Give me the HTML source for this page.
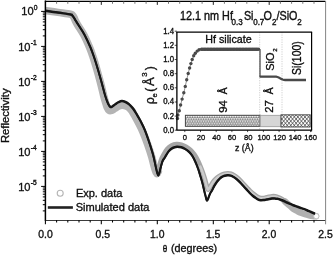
<!DOCTYPE html><html><head><meta charset="utf-8"><title>Reflectivity</title>
<style>html,body{margin:0;padding:0;background:#fff;}svg{display:block}text{font-family:"Liberation Sans",Arial,sans-serif;fill:#0c0c0c;stroke:#0c0c0c;stroke-width:0.32px}</style></head><body>
<svg width="333" height="256" viewBox="0 0 333 256">
<rect width="333" height="256" fill="#fff"/>
<defs><filter id="soft" x="0" y="0" width="333" height="256" filterUnits="userSpaceOnUse"><feGaussianBlur stdDeviation="0.38"/></filter></defs>
<g filter="url(#soft)">
<defs><clipPath id="cp"><rect x="45.5" y="1" width="279.5" height="219.3"/></clipPath></defs>
<g clip-path="url(#cp)">
<path d="M46.50,10.70 C48.42,10.98 54.00,11.82 58.00,12.40 C62.00,12.98 68.08,13.73 70.50,14.20 C72.92,14.67 71.92,14.65 72.50,15.20 C73.08,15.75 73.50,16.53 74.00,17.50 C74.50,18.47 74.87,19.72 75.50,21.00 C76.13,22.28 76.38,22.83 77.80,25.20 C79.22,27.57 82.00,31.40 84.00,35.20 C86.00,39.00 88.27,44.28 89.80,48.00 C91.33,51.72 92.17,54.42 93.20,57.50 C94.23,60.58 95.07,63.33 96.00,66.50 C96.93,69.67 97.93,73.33 98.80,76.50 C99.67,79.67 100.40,82.33 101.20,85.50 C102.00,88.67 102.90,92.75 103.60,95.50 C104.30,98.25 104.80,100.00 105.40,102.00 C106.00,104.00 106.57,106.08 107.20,107.50 C107.83,108.92 108.48,110.00 109.20,110.50 C109.92,111.00 110.62,110.80 111.50,110.50 C112.38,110.20 113.42,109.38 114.50,108.70 C115.58,108.02 116.83,106.98 118.00,106.40 C119.17,105.82 120.33,105.33 121.50,105.20 C122.67,105.07 123.83,105.25 125.00,105.60 C126.17,105.95 127.37,106.43 128.50,107.30 C129.63,108.17 130.72,109.30 131.80,110.80 C132.88,112.30 133.87,114.27 135.00,116.30 C136.13,118.33 137.27,120.35 138.60,123.00 C139.93,125.65 141.50,128.67 143.00,132.20 C144.50,135.73 146.17,140.15 147.60,144.20 C149.03,148.25 150.43,152.53 151.60,156.50 C152.77,160.47 153.83,165.33 154.60,168.00 C155.37,170.67 155.75,171.58 156.20,172.50 C156.65,173.42 156.95,173.67 157.30,173.50 C157.65,173.33 158.13,171.83 158.30,171.50" fill="none" stroke="#b4b4b4" stroke-width="7.5" stroke-linejoin="round" stroke-linecap="round"/>
<path d="M285.00,201.50 C285.53,201.95 287.13,203.28 288.20,204.20 C289.27,205.12 290.33,206.12 291.40,207.00 C292.47,207.88 293.53,208.78 294.60,209.50 C295.67,210.22 296.73,210.75 297.80,211.30 C298.87,211.85 299.80,212.32 301.00,212.80 C302.20,213.28 303.67,213.80 305.00,214.20 C306.33,214.60 307.67,214.92 309.00,215.20 C310.33,215.48 311.83,215.73 313.00,215.90 C314.17,216.07 315.50,216.15 316.00,216.20" fill="none" stroke="#b0b0b0" stroke-width="6.6" stroke-linejoin="round" stroke-linecap="round"/>
<path d="M158.30,171.50 C158.50,170.58 159.02,167.92 159.50,166.00 C159.98,164.08 160.52,161.83 161.20,160.00 C161.88,158.17 162.58,156.80 163.60,155.00 C164.62,153.20 165.98,150.75 167.30,149.20 C168.62,147.65 169.97,146.53 171.50,145.70 C173.03,144.87 174.83,144.35 176.50,144.20 C178.17,144.05 179.92,144.37 181.50,144.80 C183.08,145.23 184.52,145.93 186.00,146.80 C187.48,147.67 189.03,148.72 190.40,150.00 C191.77,151.28 193.03,152.83 194.20,154.50 C195.37,156.17 196.38,158.00 197.40,160.00 C198.42,162.00 199.40,164.33 200.30,166.50 C201.20,168.67 202.02,170.75 202.80,173.00 C203.58,175.25 204.37,177.83 205.00,180.00 C205.63,182.17 206.13,184.45 206.60,186.00 C207.07,187.55 207.40,188.88 207.80,189.30 C208.20,189.72 208.47,189.13 209.00,188.50 C209.53,187.87 210.30,186.58 211.00,185.50 C211.70,184.42 212.40,183.08 213.20,182.00 C214.00,180.92 214.92,179.87 215.80,179.00 C216.68,178.13 217.55,177.47 218.50,176.80 C219.45,176.13 220.48,175.50 221.50,175.00 C222.52,174.50 223.55,174.07 224.60,173.80 C225.65,173.53 226.73,173.40 227.80,173.40 C228.87,173.40 229.93,173.45 231.00,173.80 C232.07,174.15 233.13,174.80 234.20,175.50 C235.27,176.20 236.33,177.08 237.40,178.00 C238.47,178.92 239.53,179.92 240.60,181.00 C241.67,182.08 242.73,183.33 243.80,184.50 C244.87,185.67 245.93,186.88 247.00,188.00 C248.07,189.12 249.15,190.20 250.20,191.20 C251.25,192.20 252.25,193.13 253.30,194.00 C254.35,194.87 255.47,195.77 256.50,196.40 C257.53,197.03 258.50,197.50 259.50,197.80 C260.50,198.10 261.50,198.20 262.50,198.20 C263.50,198.20 264.47,198.00 265.50,197.80 C266.53,197.60 267.62,197.23 268.70,197.00 C269.78,196.77 270.90,196.48 272.00,196.40 C273.10,196.32 274.22,196.32 275.30,196.50 C276.38,196.68 277.42,197.05 278.50,197.50 C279.58,197.95 280.72,198.53 281.80,199.20 C282.88,199.87 284.47,201.12 285.00,201.50" fill="none" stroke="#a6a6a6" stroke-width="5" stroke-linejoin="round" stroke-linecap="round"/>
<path d="M200.30,166.50 C200.72,167.58 202.02,170.75 202.80,173.00 C203.58,175.25 204.37,177.83 205.00,180.00 C205.63,182.17 206.13,184.45 206.60,186.00 C207.07,187.55 207.40,188.88 207.80,189.30 C208.20,189.72 208.47,189.13 209.00,188.50 C209.53,187.87 210.30,186.58 211.00,185.50 C211.70,184.42 212.40,183.08 213.20,182.00 C214.00,180.92 214.92,179.87 215.80,179.00 C216.68,178.13 217.55,177.47 218.50,176.80 C219.45,176.13 220.48,175.50 221.50,175.00 C222.52,174.50 223.55,174.07 224.60,173.80 C225.65,173.53 226.73,173.40 227.80,173.40 C228.87,173.40 229.93,173.45 231.00,173.80 C232.07,174.15 233.13,174.80 234.20,175.50 C235.27,176.20 236.33,177.08 237.40,178.00 C238.47,178.92 239.53,179.92 240.60,181.00 C241.67,182.08 242.73,183.33 243.80,184.50 C244.87,185.67 245.93,186.88 247.00,188.00 C248.07,189.12 249.15,190.20 250.20,191.20 C251.25,192.20 252.25,193.13 253.30,194.00 C254.35,194.87 255.47,195.77 256.50,196.40 C257.53,197.03 258.50,197.50 259.50,197.80 C260.50,198.10 261.50,198.20 262.50,198.20 C263.50,198.20 264.47,198.00 265.50,197.80 C266.53,197.60 267.62,197.23 268.70,197.00 C269.78,196.77 270.90,196.48 272.00,196.40 C273.10,196.32 274.22,196.32 275.30,196.50 C276.38,196.68 277.42,197.05 278.50,197.50 C279.58,197.95 281.25,198.92 281.80,199.20" fill="none" stroke="#cccccc" stroke-width="2.4" stroke-linejoin="round" stroke-linecap="round"/>
<circle cx="316.3" cy="216.2" r="2.6" fill="#fff" stroke="#bbb" stroke-width="0.8"/>
<path d="M45.50,10.70 C47.58,11.02 53.83,11.98 58.00,12.60 C62.17,13.22 68.17,13.97 70.50,14.40 C72.83,14.83 71.50,14.77 72.00,15.20 C72.50,15.63 72.90,16.12 73.50,17.00 C74.10,17.88 74.80,19.20 75.60,20.50 C76.40,21.80 76.80,22.40 78.30,24.80 C79.80,27.20 82.57,31.12 84.60,34.90 C86.63,38.68 88.93,43.82 90.50,47.50 C92.07,51.18 92.93,53.92 94.00,57.00 C95.07,60.08 95.93,62.83 96.90,66.00 C97.87,69.17 98.90,72.83 99.80,76.00 C100.70,79.17 101.43,81.83 102.30,85.00 C103.17,88.17 104.22,92.33 105.00,95.00 C105.78,97.67 106.37,99.33 107.00,101.00 C107.63,102.67 108.22,104.00 108.80,105.00 C109.38,106.00 109.88,106.78 110.50,107.00 C111.12,107.22 111.75,106.72 112.50,106.30 C113.25,105.88 114.00,105.18 115.00,104.50 C116.00,103.82 117.35,102.78 118.50,102.20 C119.65,101.62 120.73,101.03 121.90,101.00 C123.07,100.97 124.32,101.47 125.50,102.00 C126.68,102.53 127.75,103.12 129.00,104.20 C130.25,105.28 131.75,106.87 133.00,108.50 C134.25,110.13 135.27,111.95 136.50,114.00 C137.73,116.05 139.02,118.13 140.40,120.80 C141.78,123.47 143.32,126.37 144.80,130.00 C146.28,133.63 147.90,138.38 149.30,142.60 C150.70,146.82 152.08,151.08 153.20,155.30 C154.32,159.52 155.30,164.87 156.00,167.90 C156.70,170.93 157.02,172.23 157.40,173.50 C157.78,174.77 158.00,175.50 158.30,175.50 C158.60,175.50 158.82,174.77 159.20,173.50 C159.58,172.23 160.07,169.90 160.60,167.90 C161.13,165.90 161.67,163.28 162.40,161.50 C163.13,159.72 163.93,158.93 165.00,157.20 C166.07,155.47 167.53,152.63 168.80,151.10 C170.07,149.57 171.23,148.73 172.60,148.00 C173.97,147.27 175.53,146.82 177.00,146.70 C178.47,146.58 180.03,146.92 181.40,147.30 C182.77,147.68 183.90,148.22 185.20,149.00 C186.50,149.78 188.00,150.83 189.20,152.00 C190.40,153.17 191.40,154.42 192.40,156.00 C193.40,157.58 194.27,159.42 195.20,161.50 C196.13,163.58 197.17,166.17 198.00,168.50 C198.83,170.83 199.47,173.08 200.20,175.50 C200.93,177.92 201.70,180.33 202.40,183.00 C203.10,185.67 203.80,189.03 204.40,191.50 C205.00,193.97 205.65,196.42 206.00,197.80 C206.35,199.18 206.33,199.35 206.50,199.80 C206.67,200.25 206.82,200.50 207.00,200.50 C207.18,200.50 207.37,200.22 207.60,199.80 C207.83,199.38 208.00,199.00 208.40,198.00 C208.80,197.00 209.38,195.10 210.00,193.80 C210.62,192.50 211.35,191.57 212.10,190.20 C212.85,188.83 213.67,187.03 214.50,185.60 C215.33,184.17 216.32,182.67 217.10,181.60 C217.88,180.53 218.47,179.93 219.20,179.20 C219.93,178.47 220.62,177.77 221.50,177.20 C222.38,176.63 223.45,176.13 224.50,175.80 C225.55,175.47 226.75,175.23 227.80,175.20 C228.85,175.17 229.83,175.30 230.80,175.60 C231.77,175.90 232.60,176.38 233.60,177.00 C234.60,177.62 235.73,178.42 236.80,179.30 C237.87,180.18 238.95,181.25 240.00,182.30 C241.05,183.35 242.07,184.48 243.10,185.60 C244.13,186.72 245.15,187.83 246.20,189.00 C247.25,190.17 248.35,191.50 249.40,192.60 C250.45,193.70 251.43,194.70 252.50,195.60 C253.57,196.50 254.83,197.33 255.80,198.00 C256.77,198.67 257.52,199.23 258.30,199.60 C259.08,199.97 259.63,200.12 260.50,200.20 C261.37,200.28 262.50,200.20 263.50,200.10 C264.50,200.00 265.50,199.78 266.50,199.60 C267.50,199.42 268.58,199.18 269.50,199.00 C270.42,198.82 271.17,198.60 272.00,198.50 C272.83,198.40 273.58,198.35 274.50,198.40 C275.42,198.45 276.48,198.58 277.50,198.80 C278.52,199.02 279.55,199.33 280.60,199.70 C281.65,200.07 282.75,200.53 283.80,201.00 C284.85,201.47 285.87,202.02 286.90,202.50 C287.93,202.98 288.95,203.45 290.00,203.90 C291.05,204.35 292.13,204.78 293.20,205.20 C294.27,205.62 295.35,206.02 296.40,206.40 C297.45,206.78 298.30,207.08 299.50,207.50 C300.70,207.92 302.35,208.45 303.60,208.90 C304.85,209.35 305.77,209.68 307.00,210.20 C308.23,210.72 309.67,211.42 311.00,212.00 C312.33,212.58 314.33,213.42 315.00,213.70" fill="none" stroke="#161616" stroke-width="1.9" stroke-linejoin="round" transform="translate(0,-0.3)"/>
<path d="M45.50,10.70 C47.58,11.02 53.83,11.98 58.00,12.60 C62.17,13.22 68.17,13.97 70.50,14.40 C72.83,14.83 71.50,14.77 72.00,15.20 C72.50,15.63 72.90,16.12 73.50,17.00 C74.10,17.88 74.80,19.20 75.60,20.50 C76.40,21.80 76.80,22.40 78.30,24.80 C79.80,27.20 82.57,31.12 84.60,34.90 C86.63,38.68 88.93,43.82 90.50,47.50 C92.07,51.18 92.93,53.92 94.00,57.00 C95.07,60.08 95.93,62.83 96.90,66.00 C97.87,69.17 98.90,72.83 99.80,76.00 C100.70,79.17 101.43,81.83 102.30,85.00 C103.17,88.17 104.22,92.33 105.00,95.00 C105.78,97.67 106.37,99.33 107.00,101.00 C107.63,102.67 108.22,104.00 108.80,105.00 C109.38,106.00 109.88,106.78 110.50,107.00 C111.12,107.22 111.75,106.72 112.50,106.30 C113.25,105.88 114.00,105.18 115.00,104.50 C116.00,103.82 117.35,102.78 118.50,102.20 C119.65,101.62 120.73,101.03 121.90,101.00 C123.07,100.97 124.32,101.47 125.50,102.00 C126.68,102.53 127.75,103.12 129.00,104.20 C130.25,105.28 131.75,106.87 133.00,108.50 C134.25,110.13 135.27,111.95 136.50,114.00 C137.73,116.05 139.02,118.13 140.40,120.80 C141.78,123.47 143.32,126.37 144.80,130.00 C146.28,133.63 147.90,138.38 149.30,142.60 C150.70,146.82 152.08,151.08 153.20,155.30 C154.32,159.52 155.30,164.87 156.00,167.90 C156.70,170.93 157.02,172.23 157.40,173.50 C157.78,174.77 158.00,175.50 158.30,175.50 C158.60,175.50 158.82,174.77 159.20,173.50 C159.58,172.23 160.07,169.90 160.60,167.90 C161.13,165.90 161.67,163.28 162.40,161.50 C163.13,159.72 163.93,158.93 165.00,157.20 C166.07,155.47 167.53,152.63 168.80,151.10 C170.07,149.57 171.23,148.73 172.60,148.00 C173.97,147.27 175.53,146.82 177.00,146.70 C178.47,146.58 180.03,146.92 181.40,147.30 C182.77,147.68 183.90,148.22 185.20,149.00 C186.50,149.78 188.00,150.83 189.20,152.00 C190.40,153.17 191.40,154.42 192.40,156.00 C193.40,157.58 194.27,159.42 195.20,161.50 C196.13,163.58 197.17,166.17 198.00,168.50 C198.83,170.83 199.47,173.08 200.20,175.50 C200.93,177.92 201.70,180.33 202.40,183.00 C203.10,185.67 203.80,189.03 204.40,191.50 C205.00,193.97 205.65,196.42 206.00,197.80 C206.35,199.18 206.33,199.35 206.50,199.80 C206.67,200.25 206.82,200.50 207.00,200.50 C207.18,200.50 207.37,200.22 207.60,199.80 C207.83,199.38 208.00,199.00 208.40,198.00 C208.80,197.00 209.38,195.10 210.00,193.80 C210.62,192.50 211.35,191.57 212.10,190.20 C212.85,188.83 213.67,187.03 214.50,185.60 C215.33,184.17 216.32,182.67 217.10,181.60 C217.88,180.53 218.47,179.93 219.20,179.20 C219.93,178.47 220.62,177.77 221.50,177.20 C222.38,176.63 223.45,176.13 224.50,175.80 C225.55,175.47 226.75,175.23 227.80,175.20 C228.85,175.17 229.83,175.30 230.80,175.60 C231.77,175.90 232.60,176.38 233.60,177.00 C234.60,177.62 235.73,178.42 236.80,179.30 C237.87,180.18 238.95,181.25 240.00,182.30 C241.05,183.35 242.07,184.48 243.10,185.60 C244.13,186.72 245.15,187.83 246.20,189.00 C247.25,190.17 248.35,191.50 249.40,192.60 C250.45,193.70 251.43,194.70 252.50,195.60 C253.57,196.50 254.83,197.33 255.80,198.00 C256.77,198.67 257.52,199.23 258.30,199.60 C259.08,199.97 259.63,200.12 260.50,200.20 C261.37,200.28 262.50,200.20 263.50,200.10 C264.50,200.00 265.50,199.78 266.50,199.60 C267.50,199.42 268.58,199.18 269.50,199.00 C270.42,198.82 271.17,198.60 272.00,198.50 C272.83,198.40 273.58,198.35 274.50,198.40 C275.42,198.45 276.48,198.58 277.50,198.80 C278.52,199.02 279.55,199.33 280.60,199.70 C281.65,200.07 282.75,200.53 283.80,201.00 C284.85,201.47 285.87,202.02 286.90,202.50 C287.93,202.98 288.95,203.45 290.00,203.90 C291.05,204.35 292.13,204.78 293.20,205.20 C294.27,205.62 295.35,206.02 296.40,206.40 C297.45,206.78 298.30,207.08 299.50,207.50 C300.70,207.92 302.35,208.45 303.60,208.90 C304.85,209.35 305.77,209.68 307.00,210.20 C308.23,210.72 309.67,211.42 311.00,212.00 C312.33,212.58 314.33,213.42 315.00,213.70" fill="none" stroke="#161616" stroke-width="1.9" stroke-linejoin="round" transform="translate(0,0.3)"/>
</g>
<g stroke="#000" fill="none">
<path d="M44.9,1.3 H325.4" stroke-width="1.3"/>
<path d="M45.4,0.5 V220.6" stroke-width="1.5"/>
<path d="M44.9,220.5 H325.4" stroke-width="1" stroke="#3a3a3a"/>
<path d="M325.6,1 V224.3" stroke-width="0.9" stroke="#777"/>
<path d="M45.4,220.3 v4.0 M56.6,220.3 v2.3 M67.8,220.3 v2.3 M79.0,220.3 v2.3 M90.2,220.3 v2.3 M101.3,220.3 v4.0 M112.5,220.3 v2.3 M123.7,220.3 v2.3 M134.9,220.3 v2.3 M146.1,220.3 v2.3 M157.3,220.3 v4.0 M168.5,220.3 v2.3 M179.7,220.3 v2.3 M190.9,220.3 v2.3 M202.1,220.3 v2.3 M213.3,220.3 v4.0 M224.4,220.3 v2.3 M235.6,220.3 v2.3 M246.8,220.3 v2.3 M258.0,220.3 v2.3 M269.2,220.3 v4.0 M280.4,220.3 v2.3 M291.6,220.3 v2.3 M302.8,220.3 v2.3 M314.0,220.3 v2.3" stroke-width="1.05"/>
<path d="M56.6,1.5 v2.3 M67.8,1.5 v2.3 M79.0,1.5 v2.3 M90.2,1.5 v2.3 M112.5,1.5 v2.3 M123.7,1.5 v2.3 M134.9,1.5 v2.3 M146.1,1.5 v2.3 M168.5,1.5 v2.3 M179.7,1.5 v2.3 M190.9,1.5 v2.3 M202.1,1.5 v2.3 M224.4,1.5 v2.3 M235.6,1.5 v2.3 M246.8,1.5 v2.3 M258.0,1.5 v2.3 M280.4,1.5 v2.3 M291.6,1.5 v2.3 M302.8,1.5 v2.3 M314.0,1.5 v2.3" stroke-width="0.9" stroke="#6a6a6a"/>
<path d="M101.3,1.5 v3.4 M157.3,1.5 v3.4 M213.3,1.5 v3.4 M269.2,1.5 v3.4" stroke-width="1" stroke="#222"/>
<path d="M45.5,11.4 h-4.4 M45.5,35.9 h-2.7 M45.5,29.7 h-2.7 M45.5,25.3 h-2.7 M45.5,21.9 h-2.7 M45.5,19.2 h-2.7 M45.5,16.8 h-2.7 M45.5,14.8 h-2.7 M45.5,13.0 h-2.7 M45.5,46.4 h-4.4 M45.5,70.9 h-2.7 M45.5,64.7 h-2.7 M45.5,60.3 h-2.7 M45.5,56.9 h-2.7 M45.5,54.2 h-2.7 M45.5,51.8 h-2.7 M45.5,49.8 h-2.7 M45.5,48.0 h-2.7 M45.5,81.4 h-4.4 M45.5,105.9 h-2.7 M45.5,99.7 h-2.7 M45.5,95.3 h-2.7 M45.5,91.9 h-2.7 M45.5,89.2 h-2.7 M45.5,86.8 h-2.7 M45.5,84.8 h-2.7 M45.5,83.0 h-2.7 M45.5,116.4 h-4.4 M45.5,140.9 h-2.7 M45.5,134.7 h-2.7 M45.5,130.3 h-2.7 M45.5,126.9 h-2.7 M45.5,124.2 h-2.7 M45.5,121.8 h-2.7 M45.5,119.8 h-2.7 M45.5,118.0 h-2.7 M45.5,151.4 h-4.4 M45.5,175.9 h-2.7 M45.5,169.7 h-2.7 M45.5,165.3 h-2.7 M45.5,161.9 h-2.7 M45.5,159.2 h-2.7 M45.5,156.8 h-2.7 M45.5,154.8 h-2.7 M45.5,153.0 h-2.7 M45.5,186.4 h-4.4 M45.5,210.9 h-2.7 M45.5,204.7 h-2.7 M45.5,200.3 h-2.7 M45.5,196.9 h-2.7 M45.5,194.2 h-2.7 M45.5,191.8 h-2.7 M45.5,189.8 h-2.7 M45.5,188.0 h-2.7" stroke-width="1"/>
</g>
<text x="33.6" y="15.2" font-size="11.1" text-anchor="end">10</text>
<text transform="translate(33.7,9.8) scale(1,1.200)" font-size="6.70" text-anchor="start" >0</text>
<text x="30.5" y="50.6" font-size="11.1" text-anchor="end">10</text>
<text transform="translate(30.8,45.3) scale(1,1.200)" font-size="6.70" text-anchor="start" >-1</text>
<text x="30.5" y="85.6" font-size="11.1" text-anchor="end">10</text>
<text transform="translate(30.8,80.3) scale(1,1.200)" font-size="6.70" text-anchor="start" >-2</text>
<text x="30.5" y="120.6" font-size="11.1" text-anchor="end">10</text>
<text transform="translate(30.8,115.3) scale(1,1.200)" font-size="6.70" text-anchor="start" >-3</text>
<text x="30.5" y="155.6" font-size="11.1" text-anchor="end">10</text>
<text transform="translate(30.8,150.3) scale(1,1.200)" font-size="6.70" text-anchor="start" >-4</text>
<text x="30.5" y="190.6" font-size="11.1" text-anchor="end">10</text>
<text transform="translate(30.8,185.3) scale(1,1.200)" font-size="6.70" text-anchor="start" >-5</text>
<text transform="translate(45.5,237.5) scale(1,1.050)" font-size="10.40" text-anchor="middle" >0.0</text>
<text transform="translate(102.7,237.5) scale(1,1.050)" font-size="10.40" text-anchor="middle" >0.5</text>
<text transform="translate(157.3,237.5) scale(1,1.050)" font-size="10.40" text-anchor="middle" >1.0</text>
<text transform="translate(213.1,237.5) scale(1,1.050)" font-size="10.40" text-anchor="middle" >1.5</text>
<text transform="translate(269.0,237.5) scale(1,1.050)" font-size="10.40" text-anchor="middle" >2.0</text>
<text transform="translate(325.5,237.5) scale(1,1.050)" font-size="10.40" text-anchor="middle" >2.5</text>
<text transform="translate(162.8,252.4) scale(1,1.07)" font-size="9.4" font-family="'Liberation Serif',serif" style="font-family:'Liberation Serif',serif">θ</text>
<text transform="translate(171.0,252.4) scale(1,1.070)" font-size="10.80" text-anchor="start" >(degrees)</text>
<text transform="translate(9.1,143.1) rotate(-90)" font-size="10.9" textLength="54.7" lengthAdjust="spacingAndGlyphs">Reflectivity</text>
<circle cx="60.2" cy="193.2" r="3" fill="#fff" stroke="#b5b5b5" stroke-width="1.1"/>
<text transform="translate(75.9,197.1) scale(1,1.070)" font-size="11.00" text-anchor="start" >Exp. data</text>
<path d="M47.8,207.5 H72.9" stroke="#222" stroke-width="2.6"/>
<text transform="translate(75.7,211.4) scale(1,1.070)" font-size="11.05" text-anchor="start" >Simulated data</text>
<text transform="translate(0,19.7) scale(1,1.13)" font-size="10.8"><tspan x="180.1" y="0">12.1 nm Hf</tspan><tspan x="231.5" y="4.4" font-size="8">0.3</tspan><tspan x="243.9" y="0">Si</tspan><tspan x="253.2" y="4.4" font-size="8">0.7</tspan><tspan x="263.4" y="0">O</tspan><tspan x="272.1" y="4.4" font-size="8">2</tspan><tspan x="276.5" y="0">/SiO</tspan><tspan x="297.2" y="4.4" font-size="8">2</tspan></text>
<rect x="176.9" y="32.1" width="134.7" height="98.0" fill="#fff" stroke="none"/>
<path d="M259.7,32.1 V130.1 M282,32.1 V130.1" stroke="#c4c4c4" stroke-width="0.8" stroke-dasharray="1.2,1.2" fill="none"/>
<defs>
<clipPath id="cx"><rect x="281" y="114.8" width="29.2" height="12.2"/></clipPath></defs>
<rect x="185.4" y="115.3" width="74.8" height="11" fill="#aaaaaa" stroke="none"/>
<path d="M186.40,116.50h0M188.85,116.50h0M191.30,116.50h0M193.75,116.50h0M196.20,116.50h0M198.65,116.50h0M201.10,116.50h0M203.55,116.50h0M206.00,116.50h0M208.45,116.50h0M210.90,116.50h0M213.35,116.50h0M215.80,116.50h0M218.25,116.50h0M220.70,116.50h0M223.15,116.50h0M225.60,116.50h0M228.05,116.50h0M230.50,116.50h0M232.95,116.50h0M235.40,116.50h0M237.85,116.50h0M240.30,116.50h0M242.75,116.50h0M245.20,116.50h0M247.65,116.50h0M250.10,116.50h0M252.55,116.50h0M255.00,116.50h0M257.45,116.50h0M187.62,118.70h0M190.07,118.70h0M192.52,118.70h0M194.97,118.70h0M197.42,118.70h0M199.87,118.70h0M202.32,118.70h0M204.77,118.70h0M207.22,118.70h0M209.67,118.70h0M212.12,118.70h0M214.57,118.70h0M217.02,118.70h0M219.47,118.70h0M221.92,118.70h0M224.37,118.70h0M226.82,118.70h0M229.27,118.70h0M231.72,118.70h0M234.17,118.70h0M236.62,118.70h0M239.07,118.70h0M241.52,118.70h0M243.97,118.70h0M246.42,118.70h0M248.87,118.70h0M251.32,118.70h0M253.77,118.70h0M256.22,118.70h0M258.67,118.70h0M186.40,120.90h0M188.85,120.90h0M191.30,120.90h0M193.75,120.90h0M196.20,120.90h0M198.65,120.90h0M201.10,120.90h0M203.55,120.90h0M206.00,120.90h0M208.45,120.90h0M210.90,120.90h0M213.35,120.90h0M215.80,120.90h0M218.25,120.90h0M220.70,120.90h0M223.15,120.90h0M225.60,120.90h0M228.05,120.90h0M230.50,120.90h0M232.95,120.90h0M235.40,120.90h0M237.85,120.90h0M240.30,120.90h0M242.75,120.90h0M245.20,120.90h0M247.65,120.90h0M250.10,120.90h0M252.55,120.90h0M255.00,120.90h0M257.45,120.90h0M187.62,123.10h0M190.07,123.10h0M192.52,123.10h0M194.97,123.10h0M197.42,123.10h0M199.87,123.10h0M202.32,123.10h0M204.77,123.10h0M207.22,123.10h0M209.67,123.10h0M212.12,123.10h0M214.57,123.10h0M217.02,123.10h0M219.47,123.10h0M221.92,123.10h0M224.37,123.10h0M226.82,123.10h0M229.27,123.10h0M231.72,123.10h0M234.17,123.10h0M236.62,123.10h0M239.07,123.10h0M241.52,123.10h0M243.97,123.10h0M246.42,123.10h0M248.87,123.10h0M251.32,123.10h0M253.77,123.10h0M256.22,123.10h0M258.67,123.10h0M186.40,125.30h0M188.85,125.30h0M191.30,125.30h0M193.75,125.30h0M196.20,125.30h0M198.65,125.30h0M201.10,125.30h0M203.55,125.30h0M206.00,125.30h0M208.45,125.30h0M210.90,125.30h0M213.35,125.30h0M215.80,125.30h0M218.25,125.30h0M220.70,125.30h0M223.15,125.30h0M225.60,125.30h0M228.05,125.30h0M230.50,125.30h0M232.95,125.30h0M235.40,125.30h0M237.85,125.30h0M240.30,125.30h0M242.75,125.30h0M245.20,125.30h0M247.65,125.30h0M250.10,125.30h0M252.55,125.30h0M255.00,125.30h0M257.45,125.30h0" stroke="#f2f2f2" stroke-width="1.45" stroke-linecap="round" fill="none"/>
<path d="M187.62,117.60h0M190.07,117.60h0M192.52,117.60h0M194.97,117.60h0M197.42,117.60h0M199.87,117.60h0M202.32,117.60h0M204.77,117.60h0M207.22,117.60h0M209.67,117.60h0M212.12,117.60h0M214.57,117.60h0M217.02,117.60h0M219.47,117.60h0M221.92,117.60h0M224.37,117.60h0M226.82,117.60h0M229.27,117.60h0M231.72,117.60h0M234.17,117.60h0M236.62,117.60h0M239.07,117.60h0M241.52,117.60h0M243.97,117.60h0M246.42,117.60h0M248.87,117.60h0M251.32,117.60h0M253.77,117.60h0M256.22,117.60h0M258.67,117.60h0M188.84,119.80h0M191.29,119.80h0M193.74,119.80h0M196.19,119.80h0M198.64,119.80h0M201.09,119.80h0M203.54,119.80h0M205.99,119.80h0M208.44,119.80h0M210.89,119.80h0M213.34,119.80h0M215.79,119.80h0M218.24,119.80h0M220.69,119.80h0M223.14,119.80h0M225.59,119.80h0M228.04,119.80h0M230.49,119.80h0M232.94,119.80h0M235.39,119.80h0M237.84,119.80h0M240.29,119.80h0M242.74,119.80h0M245.19,119.80h0M247.64,119.80h0M250.09,119.80h0M252.54,119.80h0M254.99,119.80h0M257.44,119.80h0M187.62,122.00h0M190.07,122.00h0M192.52,122.00h0M194.97,122.00h0M197.42,122.00h0M199.87,122.00h0M202.32,122.00h0M204.77,122.00h0M207.22,122.00h0M209.67,122.00h0M212.12,122.00h0M214.57,122.00h0M217.02,122.00h0M219.47,122.00h0M221.92,122.00h0M224.37,122.00h0M226.82,122.00h0M229.27,122.00h0M231.72,122.00h0M234.17,122.00h0M236.62,122.00h0M239.07,122.00h0M241.52,122.00h0M243.97,122.00h0M246.42,122.00h0M248.87,122.00h0M251.32,122.00h0M253.77,122.00h0M256.22,122.00h0M258.67,122.00h0M188.84,124.20h0M191.29,124.20h0M193.74,124.20h0M196.19,124.20h0M198.64,124.20h0M201.09,124.20h0M203.54,124.20h0M205.99,124.20h0M208.44,124.20h0M210.89,124.20h0M213.34,124.20h0M215.79,124.20h0M218.24,124.20h0M220.69,124.20h0M223.14,124.20h0M225.59,124.20h0M228.04,124.20h0M230.49,124.20h0M232.94,124.20h0M235.39,124.20h0M237.84,124.20h0M240.29,124.20h0M242.74,124.20h0M245.19,124.20h0M247.64,124.20h0M250.09,124.20h0M252.54,124.20h0M254.99,124.20h0M257.44,124.20h0" stroke="#6e6e6e" stroke-width="0.95" stroke-linecap="round" fill="none"/>
<rect x="185.4" y="115.3" width="74.8" height="11" fill="none" stroke="#444" stroke-width="1"/>
<rect x="260.2" y="115.3" width="20.8" height="11.4" fill="#d6d6d6" stroke="#999" stroke-width="0.8"/>
<rect x="281" y="114.8" width="29.2" height="12.2" fill="#fafafa" stroke="none"/>
<path d="M260.60,114.80 l10.31,12.20 M260.60,114.80 l-10.31,12.20 M264.15,114.80 l10.31,12.20 M264.15,114.80 l-10.31,12.20 M267.70,114.80 l10.31,12.20 M267.70,114.80 l-10.31,12.20 M271.25,114.80 l10.31,12.20 M271.25,114.80 l-10.31,12.20 M274.80,114.80 l10.31,12.20 M274.80,114.80 l-10.31,12.20 M278.35,114.80 l10.31,12.20 M278.35,114.80 l-10.31,12.20 M281.90,114.80 l10.31,12.20 M281.90,114.80 l-10.31,12.20 M285.45,114.80 l10.31,12.20 M285.45,114.80 l-10.31,12.20 M289.00,114.80 l10.31,12.20 M289.00,114.80 l-10.31,12.20 M292.55,114.80 l10.31,12.20 M292.55,114.80 l-10.31,12.20 M296.10,114.80 l10.31,12.20 M296.10,114.80 l-10.31,12.20 M299.65,114.80 l10.31,12.20 M299.65,114.80 l-10.31,12.20 M303.20,114.80 l10.31,12.20 M303.20,114.80 l-10.31,12.20 M306.75,114.80 l10.31,12.20 M306.75,114.80 l-10.31,12.20 M310.30,114.80 l10.31,12.20 M310.30,114.80 l-10.31,12.20 M313.85,114.80 l10.31,12.20 M313.85,114.80 l-10.31,12.20 M317.40,114.80 l10.31,12.20 M317.40,114.80 l-10.31,12.20 M320.95,114.80 l10.31,12.20 M320.95,114.80 l-10.31,12.20 M324.50,114.80 l10.31,12.20 M324.50,114.80 l-10.31,12.20 M328.05,114.80 l10.31,12.20 M328.05,114.80 l-10.31,12.20" stroke="#4a4a4a" stroke-width="0.8" fill="none" clip-path="url(#cx)"/>
<rect x="281" y="114.8" width="29.2" height="12.2" fill="none" stroke="#444" stroke-width="0.9"/>
<path d="M177.5,118.5 L177.9,115.1 L179.3,110.7 L180.6,105.0 L182.1,99.1 L183.8,92.8 L185.3,86.4 L186.7,79.8 L188.2,73.5 L189.6,68.0 L190.9,63.6 L192.2,59.5 L193.7,55.8 L195.3,53.2 L197.2,51.1 L199.1,49.8 L201.6,49.3 L203.0,49.3 L204.5,49.3 L205.9,49.3 L207.4,49.3 L208.8,49.3 L210.3,49.3 L211.7,49.3 L213.2,49.3 L214.6,49.3 L216.1,49.3 L217.5,49.3 L219.0,49.3 L220.4,49.3 L221.9,49.3 L223.3,49.3 L224.8,49.3 L226.2,49.3 L227.7,49.3 L229.1,49.3 L230.6,49.3 L232.0,49.3 L233.5,49.3 L234.9,49.3 L236.4,49.3 L237.8,49.3 L239.3,49.3 L240.7,49.3 L242.2,49.3 L243.6,49.3 L245.1,49.3 L246.5,49.3 L248.0,49.3 L249.4,49.3 L250.9,49.3 L252.3,49.3 L253.8,49.3 L255.2,49.3 L256.7,49.3 L258.1,49.3 L260.0,49.3 L260.0,76.5 L260.5,76.7 L261.8,76.7 L263.1,76.7 L264.4,76.7 L265.7,76.7 L267.0,76.7 L268.3,76.7 L269.6,76.7 L270.9,76.7 L272.2,76.7 L273.5,76.7 L274.8,76.7 L276.1,76.7 L277.4,77.0 L278.7,77.5 L280.0,78.2 L281.3,78.9 L282.6,79.5 L283.9,79.9 L285.2,80.0 L286.5,80.0 L287.8,80.0 L289.1,80.0 L290.4,80.0 L291.7,80.0 L293.0,80.0 L294.3,80.0 L295.6,80.0 L296.9,80.0 L298.2,80.0 L299.5,80.0 L300.8,80.0 L302.1,80.0 L303.4,80.0 L304.7,80.0 L306.0,80.0" fill="none" stroke="#777" stroke-width="0.8"/>
<circle cx="177.5" cy="118.5" r="1.7" fill="#484848"/>
<circle cx="177.9" cy="115.1" r="1.7" fill="#484848"/>
<circle cx="179.3" cy="110.7" r="1.7" fill="#484848"/>
<circle cx="180.6" cy="105.0" r="1.7" fill="#484848"/>
<circle cx="182.1" cy="99.1" r="1.7" fill="#484848"/>
<circle cx="183.8" cy="92.8" r="1.7" fill="#484848"/>
<circle cx="185.3" cy="86.4" r="1.7" fill="#484848"/>
<circle cx="186.7" cy="79.8" r="1.7" fill="#484848"/>
<circle cx="188.2" cy="73.5" r="1.7" fill="#484848"/>
<circle cx="189.6" cy="68.0" r="1.7" fill="#484848"/>
<circle cx="190.9" cy="63.6" r="1.7" fill="#484848"/>
<circle cx="192.2" cy="59.5" r="1.7" fill="#484848"/>
<circle cx="193.7" cy="55.8" r="1.7" fill="#484848"/>
<circle cx="195.3" cy="53.2" r="1.7" fill="#484848"/>
<circle cx="197.2" cy="51.1" r="1.7" fill="#484848"/>
<circle cx="199.1" cy="49.8" r="1.7" fill="#484848"/>
<circle cx="201.6" cy="49.3" r="1.7" fill="#484848"/>
<circle cx="203.0" cy="49.3" r="1.7" fill="#484848"/>
<circle cx="204.5" cy="49.3" r="1.7" fill="#484848"/>
<circle cx="205.9" cy="49.3" r="1.7" fill="#484848"/>
<circle cx="207.4" cy="49.3" r="1.7" fill="#484848"/>
<circle cx="208.8" cy="49.3" r="1.7" fill="#484848"/>
<circle cx="210.3" cy="49.3" r="1.7" fill="#484848"/>
<circle cx="211.7" cy="49.3" r="1.7" fill="#484848"/>
<circle cx="213.2" cy="49.3" r="1.7" fill="#484848"/>
<circle cx="214.6" cy="49.3" r="1.7" fill="#484848"/>
<circle cx="216.1" cy="49.3" r="1.7" fill="#484848"/>
<circle cx="217.5" cy="49.3" r="1.7" fill="#484848"/>
<circle cx="219.0" cy="49.3" r="1.7" fill="#484848"/>
<circle cx="220.4" cy="49.3" r="1.7" fill="#484848"/>
<circle cx="221.9" cy="49.3" r="1.7" fill="#484848"/>
<circle cx="223.3" cy="49.3" r="1.7" fill="#484848"/>
<circle cx="224.8" cy="49.3" r="1.7" fill="#484848"/>
<circle cx="226.2" cy="49.3" r="1.7" fill="#484848"/>
<circle cx="227.7" cy="49.3" r="1.7" fill="#484848"/>
<circle cx="229.1" cy="49.3" r="1.7" fill="#484848"/>
<circle cx="230.6" cy="49.3" r="1.7" fill="#484848"/>
<circle cx="232.0" cy="49.3" r="1.7" fill="#484848"/>
<circle cx="233.5" cy="49.3" r="1.7" fill="#484848"/>
<circle cx="234.9" cy="49.3" r="1.7" fill="#484848"/>
<circle cx="236.4" cy="49.3" r="1.7" fill="#484848"/>
<circle cx="237.8" cy="49.3" r="1.7" fill="#484848"/>
<circle cx="239.3" cy="49.3" r="1.7" fill="#484848"/>
<circle cx="240.7" cy="49.3" r="1.7" fill="#484848"/>
<circle cx="242.2" cy="49.3" r="1.7" fill="#484848"/>
<circle cx="243.6" cy="49.3" r="1.7" fill="#484848"/>
<circle cx="245.1" cy="49.3" r="1.7" fill="#484848"/>
<circle cx="246.5" cy="49.3" r="1.7" fill="#484848"/>
<circle cx="248.0" cy="49.3" r="1.7" fill="#484848"/>
<circle cx="249.4" cy="49.3" r="1.7" fill="#484848"/>
<circle cx="250.9" cy="49.3" r="1.7" fill="#484848"/>
<circle cx="252.3" cy="49.3" r="1.7" fill="#484848"/>
<circle cx="253.8" cy="49.3" r="1.7" fill="#484848"/>
<circle cx="255.2" cy="49.3" r="1.7" fill="#484848"/>
<circle cx="256.7" cy="49.3" r="1.7" fill="#484848"/>
<circle cx="258.1" cy="49.3" r="1.7" fill="#484848"/>
<path d="M259.6,76.7 L260.5,76.7 L261.8,76.7 L263.1,76.7 L264.4,76.7 L265.7,76.7 L267.0,76.7 L268.3,76.7 L269.6,76.7 L270.9,76.7 L272.2,76.7 L273.5,76.7 L274.8,76.7 L276.1,76.7 L277.4,77.0 L278.7,77.5 L280.0,78.2 L281.3,78.9 L282.6,79.5 L283.9,79.9 L285.2,80.0 L286.5,80.0 L287.8,80.0 L289.1,80.0 L290.4,80.0 L291.7,80.0 L293.0,80.0 L294.3,80.0 L295.6,80.0 L296.9,80.0 L298.2,80.0 L299.5,80.0 L300.8,80.0 L302.1,80.0 L303.4,80.0 L304.7,80.0 L306.0,80.0" fill="none" stroke="#4a4a4a" stroke-width="2.3"/>
<path d="M260,49 V77" fill="none" stroke="#444" stroke-width="0.9"/>
<path d="M200.5,49.25 H259.9" fill="none" stroke="#4c4c4c" stroke-width="2.6"/>
<g stroke="#000" fill="none">
<path d="M176.4,32.1 H312.1" stroke-width="1.1"/>
<path d="M176.9,32.1 V130.1" stroke-width="1.3"/>
<path d="M176.4,130.1 H312.1" stroke-width="1.3"/>
<path d="M311.6,32.1 V130.1" stroke-width="1.2"/>
<path d="M184.8,130.1 v2.0 M200.5,130.1 v2.0 M216.2,130.1 v2.0 M231.9,130.1 v2.0 M247.6,130.1 v2.0 M263.4,130.1 v2.0 M279.1,130.1 v2.0 M294.8,130.1 v2.0 M310.5,130.1 v2.0 M311.6,130.1 v1.6 M176.9,130.2 h-2.2 M176.9,116.1 h-2.2 M176.9,102.0 h-2.2 M176.9,87.8 h-2.2 M176.9,73.7 h-2.2 M176.9,59.5 h-2.2 M176.9,45.3 h-2.2 M176.9,31.2 h-2.2" stroke-width="0.7"/>
</g>
<text transform="translate(174.1,132.7) scale(1,1.120)" font-size="7.80" text-anchor="end" >0.0</text>
<text transform="translate(174.1,118.5) scale(1,1.120)" font-size="7.80" text-anchor="end" >0.2</text>
<text transform="translate(174.1,104.4) scale(1,1.120)" font-size="7.80" text-anchor="end" >0.4</text>
<text transform="translate(174.1,90.2) scale(1,1.120)" font-size="7.80" text-anchor="end" >0.6</text>
<text transform="translate(174.1,76.1) scale(1,1.120)" font-size="7.80" text-anchor="end" >0.8</text>
<text transform="translate(174.1,61.9) scale(1,1.120)" font-size="7.80" text-anchor="end" >1.0</text>
<text transform="translate(174.1,47.7) scale(1,1.120)" font-size="7.80" text-anchor="end" >1.2</text>
<text transform="translate(174.1,33.6) scale(1,1.120)" font-size="7.80" text-anchor="end" >1.4</text>
<text x="184.9" y="139.9" font-size="7.6" text-anchor="middle">0</text>
<text x="201.0" y="139.9" font-size="7.6" text-anchor="middle">20</text>
<text x="216.4" y="139.9" font-size="7.6" text-anchor="middle">40</text>
<text x="232.1" y="139.9" font-size="7.6" text-anchor="middle">60</text>
<text x="248.2" y="139.9" font-size="7.6" text-anchor="middle">80</text>
<text x="263.8" y="139.9" font-size="7.6" text-anchor="middle">100</text>
<text x="279.6" y="139.9" font-size="7.6" text-anchor="middle">120</text>
<text x="295.2" y="139.9" font-size="7.6" text-anchor="middle">140</text>
<text x="310.7" y="139.9" font-size="7.6" text-anchor="middle">160</text>
<text x="235" y="150.5" font-size="8.8">z (Å)</text>
<text transform="translate(154.2,104) rotate(-90)" font-size="12"><tspan x="0" y="0">ρ</tspan><tspan x="6.6" y="2.8" font-size="7.5">e</tspan><tspan x="12.3" y="0">(</tspan><tspan x="18" y="0" font-size="13">Å</tspan><tspan x="27.2" y="-7.6" font-size="8">3</tspan><tspan x="33.8" y="0">)</tspan></text>
<text x="205.3" y="42.8" font-size="10.7">Hf silicate</text>
<text transform="translate(273.9,70.8) rotate(-90)" font-size="11">SiO<tspan font-size="6.2" dy="3.4" dx="0.6">2</tspan></text>
<text transform="translate(300.8,74.9) rotate(-90)" font-size="11.9" textLength="33.6" lengthAdjust="spacingAndGlyphs">Si(100)</text>
<text transform="translate(227.3,112.7) rotate(-90)" font-size="11.3">94<tspan x="18.4" font-size="10">Å</tspan></text>
<text transform="translate(272.7,112.7) rotate(-90)" font-size="11.3">27<tspan x="18.4" font-size="10">Å</tspan></text>
</g>
</svg></body></html>
